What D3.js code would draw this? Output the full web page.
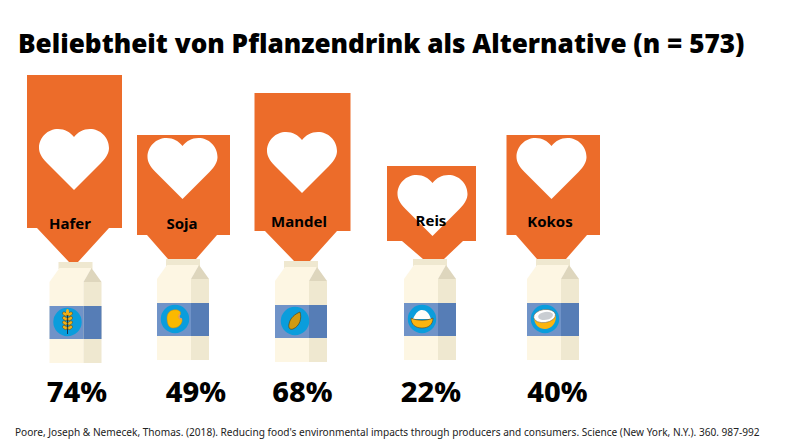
<!DOCTYPE html>
<html lang="de">
<head>
<meta charset="utf-8">
<script src="https://cdn.jsdelivr.net/npm/d3@7"></script>
<style>
  html, body { margin: 0; background: #fff; }
  svg { display: block; }
  text { font-family: "Noto Sans", "Open Sans", sans-serif; fill: #000; }
  .title { font-size: 30px; font-weight: 900; }
  .label { font-size: 15px; font-weight: 700; text-anchor: middle; }
  .value { font-size: 29px; font-weight: 800; text-anchor: middle; }
  .source { font-size: 11.5px; font-weight: 400; fill: #222; }
</style>
</head>
<body>
<script>
'use strict';

const categories = ['Hafer', 'Soja', 'Mandel', 'Reis', 'Kokos'];
const values = [74, 49, 68, 22, 40];
const icons = ['wheat', 'bean', 'almond', 'rice', 'coconut'];
const titleText = 'Beliebtheit von Pflanzendrink als Alternative (n = 573)';
const sourceText = "Poore, Joseph & Nemecek, Thomas. (2018). Reducing food's environmental impacts through producers and consumers. Science (New York, N.Y.). 360. 987-992";

const width = 785;
const height = 442;

// the flags are not linear in the original, so the scale goes through each read height
const flagTop = d3.scaleLinear()
    .domain([22, 40, 49, 68, 74])
    .range([166, 135, 135, 93, 75]);

const layout = d3.scaleOrdinal()
    .domain(categories)
    .range([
        {left: 27, right: 122, bottom: 228, shoulderL: 37, shoulderR: 109, tipL: 69, tipR: 78, tipY: 262, heartX: 74, heartY: 129, labelX: 70, labelY: 229, cartonX: 49.5, cartonY: 262, valueX: 77},
        {left: 137, right: 230, bottom: 235, shoulderL: 147, shoulderR: 217, tipL: 168, tipR: 196, tipY: 259, heartX: 182.5, heartY: 138, labelX: 182, labelY: 229, cartonX: 157, cartonY: 259, valueX: 196},
        {left: 254.5, right: 350.5, bottom: 231, shoulderL: 265, shoulderR: 337, tipL: 294, tipR: 310, tipY: 261, heartX: 302, heartY: 132, labelX: 299, labelY: 227, cartonX: 275, cartonY: 261, valueX: 302.5},
        {left: 387, right: 476, bottom: 241, shoulderL: 402, shoulderR: 463, tipL: 423, tipR: 444, tipY: 259, heartX: 432.5, heartY: 175, labelX: 431, labelY: 226, cartonX: 404, cartonY: 259, valueX: 431},
        {left: 506.5, right: 600, bottom: 235, shoulderL: 516, shoulderR: 587, tipL: 537, tipR: 566, tipY: 259, heartX: 551.5, heartY: 138, labelX: 550, labelY: 227, cartonX: 527, cartonY: 259, valueX: 557.5}
    ]);

const svg = d3.select('body').append('svg')
    .attr('width', width)
    .attr('height', height)
    .attr('viewBox', `0 0 ${width} ${height}`);

// shrink or grow the font until the text spans the width it has in the picture
function fitWidth(text, target) {
    const size = parseFloat(text.style('font-size'));
    const measured = text.node().getComputedTextLength();
    text.style('font-size', `${size * target / measured}px`);
}

svg.append('text')
    .classed('title', true)
    .attr('x', 18)
    .attr('y', 52.5)
    .text(titleText)
    .call(fitWidth, 727);

const rows = categories.map((name, i) => ({name, value: values[i], icon: icons[i], box: layout(name)}));

const heartPath = 'M35 61 L8 34 C2 28 0 23 0 19 C0 8 9 0 19 0 C26 0 31 3 35 8 C39 3 44 0 51 0 C61 0 70 8 70 19 C70 23 68 28 62 34 Z';

function flagPath(d) {
    const b = d.box;
    const top = flagTop(d.value);
    return d3.line()([
        [b.left, top], [b.right, top], [b.right, b.bottom], [b.shoulderR, b.bottom],
        [b.tipR, b.tipY], [b.tipL, b.tipY], [b.shoulderL, b.bottom], [b.left, b.bottom]
    ]) + 'Z';
}

const group = svg.selectAll('.item')
    .data(rows)
    .enter()
    .append('g')
    .classed('item', true);

group.append('path')
    .attr('d', flagPath)
    .attr('fill', '#ec6c2a');

group.append('path')
    .attr('d', heartPath)
    .attr('fill', '#fff')
    .attr('transform', (d) => `translate(${d.box.heartX - 35},${d.box.heartY})`);

group.append('text')
    .classed('label', true)
    .attr('x', (d) => d.box.labelX)
    .attr('y', (d) => d.box.labelY)
    .text((d) => d.name);

const carton = group.append('g')
    .attr('transform', (d) => `translate(${d.box.cartonX},${d.box.cartonY})`);

carton.append('rect').attr('x', 9).attr('y', 0).attr('width', 34).attr('height', 7).attr('fill', '#efe8d0');
carton.append('path').attr('d', 'M0 20 L10 6 H42 L34 20 Z').attr('fill', '#fdf6e3');
carton.append('path').attr('d', 'M34 20 L42 6 L52 20 Z').attr('fill', '#ded6bd');
carton.append('rect').attr('x', 0).attr('y', 20).attr('width', 34).attr('height', 81).attr('fill', '#fdf6e3');
carton.append('rect').attr('x', 34).attr('y', 20).attr('width', 18).attr('height', 81).attr('fill', '#efe8d0');
carton.append('rect').attr('x', 0).attr('y', 44).attr('width', 34).attr('height', 33).attr('fill', '#7093c8');
carton.append('rect').attr('x', 34).attr('y', 44).attr('width', 18).attr('height', 33).attr('fill', '#567db6');

const badge = carton.append('g')
    .attr('transform', (d) => `translate(${d.icon === 'almond' ? 20 : 18},60)`);

badge.append('circle').attr('r', 14.2).attr('fill', '#0a9ddc');

const drawIcon = {
    wheat(g) {
        g.append('path').attr('d', 'M0 -12 V12').attr('stroke', '#1c2530').attr('stroke-width', 0.9);
        [-8, -3.5, 1, 5.5].forEach((y) => {
            g.append('ellipse').attr('cx', -2.6).attr('cy', y).attr('rx', 2.7).attr('ry', 1.7)
                .attr('transform', `rotate(35 -2.6 ${y})`).attr('fill', '#f4b014').attr('stroke', '#3a3320').attr('stroke-width', 0.4);
            g.append('ellipse').attr('cx', 2.6).attr('cy', y).attr('rx', 2.7).attr('ry', 1.7)
                .attr('transform', `rotate(-35 2.6 ${y})`).attr('fill', '#f4b014').attr('stroke', '#3a3320').attr('stroke-width', 0.4);
        });
        g.append('ellipse').attr('cy', -10).attr('rx', 1.5).attr('ry', 3).attr('fill', '#f4b014');
    },
    bean(g) {
        g.append('path')
            .attr('d', 'M-2 -9 C4 -10 7 -7 5 -4 C3 -2 4 0 7 0 C8 4 4 9 -2 9 C-7 9 -8 3 -8 -1 C-8 -5 -6 -8 -2 -9 Z')
            .attr('fill', '#fbb900').attr('stroke', '#c98f10').attr('stroke-width', 0.5);
        g.append('path').attr('d', 'M5 -5 C3 -3 4 0 7 0').attr('fill', 'none').attr('stroke', '#e59a6b').attr('stroke-width', 1.6);
    },
    almond(g) {
        g.append('path')
            .attr('d', 'M5 -9 C7 -3 5 5 -2 8 C-5 9 -7 7 -6 3 C-5 -3 0 -7 5 -9 Z')
            .attr('fill', '#d09a12').attr('stroke', '#4a3a10').attr('stroke-width', 0.6);
    },
    rice(g) {
        g.append('path').attr('d', 'M-9 0 C-6 -7 -3 -9 0 -9 C4 -9 7 -6 9 0 Z').attr('fill', '#fdfdf8');
        g.append('path').attr('d', 'M-11 -1 C-5 2 5 2 11 -1 C11 6 6 9 0 9 C-6 9 -11 6 -11 -1 Z')
            .attr('fill', '#fbb40f').attr('stroke', '#5a4520').attr('stroke-width', 0.6);
    },
    coconut(g) {
        g.append('path').attr('d', 'M-11 -2 C-11 6 -6 10 0 10 C6 10 11 5 11 -3 L0 -8 Z').attr('fill', '#fbb40f');
        g.append('ellipse').attr('cx', 0).attr('cy', -3).attr('rx', 11).attr('ry', 6.5).attr('transform', 'rotate(-8)')
            .attr('fill', '#fff').attr('stroke', '#6a5a3a').attr('stroke-width', 0.5);
        g.append('ellipse').attr('cx', 1).attr('cy', -3).attr('rx', 7.5).attr('ry', 4).attr('transform', 'rotate(-8)').attr('fill', '#c9cdd2');
    }
};

badge.each(function (d) {
    drawIcon[d.icon](d3.select(this));
});

group.append('text')
    .classed('value', true)
    .attr('x', (d) => d.box.valueX)
    .attr('y', 402)
    .text((d) => `${d.value}%`);

svg.append('text')
    .classed('source', true)
    .attr('x', 15)
    .attr('y', 436)
    .text(sourceText)
    .call(fitWidth, 746);
</script>
</body>
</html>
